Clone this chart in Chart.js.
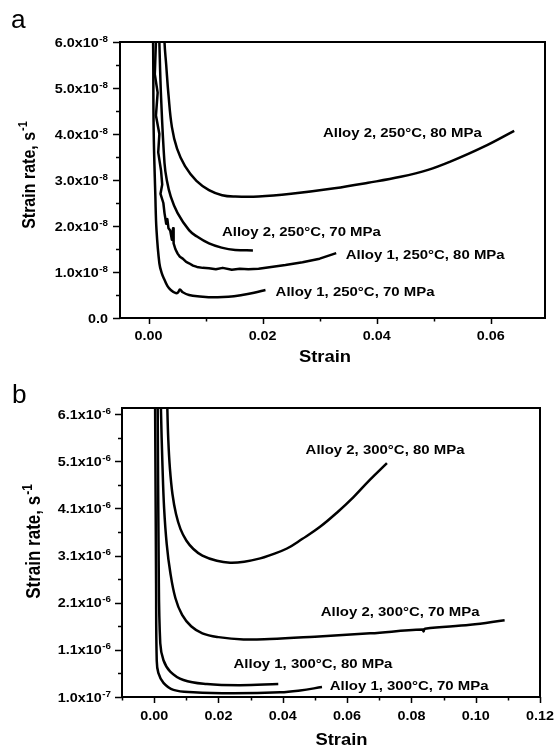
<!DOCTYPE html>
<html><head><meta charset="utf-8">
<script src="https://cdn.jsdelivr.net/npm/chart.js@4.4.0/dist/chart.umd.min.js"></script>
<style>
html,body{margin:0;padding:0;background:#fff;}
#wrap{position:relative;width:557px;height:749px;overflow:hidden;}
canvas{position:absolute;left:0;}
#ca{top:0}
#cb{top:372px}
</style></head><body>
<div id="wrap"><canvas id="ca" width="557" height="372"></canvas><canvas id="cb" width="557" height="377"></canvas></div>
<script>
// ---------- Panel a data (strain, strain rate in s^-1) ----------
const a_A2_80_x = [0.0026, 0.0028, 0.0031, 0.0035, 0.0041, 0.0050, 0.0064, 0.0084, 0.0106, 0.0129, 0.0152, 0.0193, 0.025, 0.0326, 0.0385, 0.0442, 0.049, 0.0529, 0.0587, 0.0641];
const a_A2_80_y = [7.0e-8, 6.0e-8, 5.50e-8, 4.85e-8, 4.15e-8, 3.68e-8, 3.30e-8, 2.98e-8, 2.78e-8, 2.67e-8, 2.64e-8, 2.64e-8, 2.70e-8, 2.82e-8, 2.94e-8, 3.07e-8, 3.22e-8, 3.40e-8, 3.72e-8, 4.07e-8];
const a_A2_70_x = [0.0017, 0.0019, 0.0022, 0.0028, 0.0032, 0.0039, 0.0051, 0.0071, 0.0085, 0.0106, 0.0128, 0.0152, 0.0183];
const a_A2_70_y = [7.0e-8, 6.0e-8, 4.8e-8, 3.37e-8, 3.0e-8, 2.64e-8, 2.28e-8, 1.91e-8, 1.77e-8, 1.62e-8, 1.53e-8, 1.48e-8, 1.47e-8];
const a_A1_80_x = [0.0012, 0.0013, 0.0011, 0.0016, 0.0013, 0.0019, 0.0017, 0.0022, 0.0024, 0.0021, 0.0026, 0.0028, 0.0031, 0.0033, 0.0035, 0.0038, 0.0041, 0.0043, 0.0044, 0.0047, 0.0051, 0.0055, 0.0060, 0.0066, 0.0071, 0.0078, 0.0085, 0.0095, 0.0106, 0.0118, 0.0130, 0.0146, 0.0160, 0.0175, 0.0193, 0.0215, 0.024, 0.027, 0.030, 0.0329];
const a_A1_80_y = [7.0e-8, 6.0e-8, 5.3e-8, 4.9e-8, 4.4e-8, 4.0e-8, 3.6e-8, 3.2e-8, 2.9e-8, 2.7e-8, 2.5e-8, 2.28e-8, 2.05e-8, 2.15e-8, 1.95e-8, 1.90e-8, 1.70e-8, 1.95e-8, 1.62e-8, 1.50e-8, 1.40e-8, 1.33e-8, 1.29e-8, 1.22e-8, 1.19e-8, 1.14e-8, 1.11e-8, 1.09e-8, 1.08e-8, 1.06e-8, 1.09e-8, 1.05e-8, 1.07e-8, 1.06e-8, 1.07e-8, 1.11e-8, 1.15e-8, 1.21e-8, 1.29e-8, 1.41e-8];
const a_A1_70_x = [0.0006, 0.0008, 0.0009, 0.0012, 0.0014, 0.0019, 0.0023, 0.0028, 0.0033, 0.0039, 0.0048, 0.0052, 0.0055, 0.0060, 0.0071, 0.0090, 0.0118, 0.0140, 0.0164, 0.0185, 0.0205];
const a_A1_70_y = [7.0e-8, 6.0e-8, 4.09e-8, 2.64e-8, 1.91e-8, 1.19e-8, 0.98e-8, 0.83e-8, 0.70e-8, 0.61e-8, 0.54e-8, 0.56e-8, 0.62e-8, 0.56e-8, 0.50e-8, 0.47e-8, 0.45e-8, 0.46e-8, 0.50e-8, 0.55e-8, 0.61e-8];

// ---------- Panel b data ----------
const b_A2_80_x = [0.0039, 0.0041, 0.0044, 0.0049, 0.0057, 0.0068, 0.0082, 0.0100, 0.0122, 0.0150, 0.0195, 0.0236, 0.028, 0.033, 0.0361, 0.0413, 0.046, 0.0516, 0.057, 0.062, 0.067, 0.0724];
const b_A2_80_y = [7.0e-6, 6.23e-6, 5.55e-6, 4.95e-6, 4.40e-6, 3.98e-6, 3.66e-6, 3.42e-6, 3.24e-6, 3.10e-6, 2.99e-6, 2.95e-6, 2.97e-6, 3.04e-6, 3.11e-6, 3.25e-6, 3.45e-6, 3.71e-6, 4.02e-6, 4.34e-6, 4.70e-6, 5.06e-6];
const b_A2_70_x = [0.0019, 0.0021, 0.0026, 0.0031, 0.0039, 0.0050, 0.0066, 0.0087, 0.0115, 0.0150, 0.0200, 0.0278, 0.036, 0.050, 0.0672, 0.0835, 0.0838, 0.0842, 0.0983, 0.109];
const b_A2_70_y = [7.0e-6, 6.23e-6, 4.98e-6, 4.10e-6, 3.35e-6, 2.75e-6, 2.20e-6, 1.84e-6, 1.60e-6, 1.45e-6, 1.37e-6, 1.32e-6, 1.33e-6, 1.38e-6, 1.45e-6, 1.53e-6, 1.49e-6, 1.55e-6, 1.63e-6, 1.73e-6];
const b_A1_80_x = [0.0009, 0.0011, 0.0014, 0.0019, 0.0029, 0.0050, 0.0091, 0.0164, 0.0267, 0.0386];
const b_A1_80_y = [7.0e-6, 6.23e-6, 3.0e-6, 1.24e-6, 0.88e-6, 0.64e-6, 0.46e-6, 0.375e-6, 0.35e-6, 0.375e-6];
const b_A1_70_x = [0.0002, 0.0003, 0.0006, 0.0008, 0.0013, 0.0029, 0.0060, 0.0122, 0.0247, 0.0392, 0.0454, 0.0522];
const b_A1_70_y = [7.0e-6, 6.23e-6, 2.5e-6, 0.88e-6, 0.61e-6, 0.40e-6, 0.25e-6, 0.20e-6, 0.18e-6, 0.20e-6, 0.24e-6, 0.31e-6];

// ---------- Ticks and labels ----------
const a_xTicks = [0, 0.02, 0.04, 0.06];
const a_xTickLabels = ['0.00', '0.02', '0.04', '0.06'];
const a_xMinor = [0.01, 0.03, 0.05];
const a_yTicks = [0, 1e-8, 2e-8, 3e-8, 4e-8, 5e-8, 6e-8];
const a_yTickLabels = ['0.0', '1.0x10^-8', '2.0x10^-8', '3.0x10^-8', '4.0x10^-8', '5.0x10^-8', '6.0x10^-8'];
const a_yMinor = [0.5e-8, 1.5e-8, 2.5e-8, 3.5e-8, 4.5e-8, 5.5e-8];

const b_xTicks = [0, 0.02, 0.04, 0.06, 0.08, 0.10, 0.12];
const b_xTickLabels = ['0.00', '0.02', '0.04', '0.06', '0.08', '0.10', '0.12'];
const b_xMinor = [-0.01, 0.01, 0.03, 0.05, 0.07, 0.09, 0.11];
const b_yTicks = [1.0e-7, 1.1e-6, 2.1e-6, 3.1e-6, 4.1e-6, 5.1e-6, 6.1e-6];
const b_yTickLabels = ['1.0x10^-7', '1.1x10^-6', '2.1x10^-6', '3.1x10^-6', '4.1x10^-6', '5.1x10^-6', '6.1x10^-6'];
const b_yMinor = [0.6e-6, 1.6e-6, 2.6e-6, 3.6e-6, 4.6e-6, 5.6e-6];

const a_seriesNames = ['Alloy 2, 250°C, 80 MPa', 'Alloy 2, 250°C, 70 MPa', 'Alloy 1, 250°C, 80 MPa', 'Alloy 1, 250°C, 70 MPa'];
const a_noteX = [0.0445, 0.0268, 0.0485, 0.0362];
const a_noteY = [4.04e-8, 1.89e-8, 1.38e-8, 0.57e-8];
const b_seriesNames = ['Alloy 2, 300°C, 80 MPa', 'Alloy 2, 300°C, 70 MPa', 'Alloy 1, 300°C, 80 MPa', 'Alloy 1, 300°C, 70 MPa'];
const b_noteX = [0.0718, 0.0765, 0.0494, 0.0793];
const b_noteY = [5.35e-6, 1.91e-6, 0.82e-6, 0.34e-6];

const FONT = '"Liberation Sans", Arial, Helvetica, sans-serif';
const SX = 1.15;

function setFont(ctx, size, weight) { ctx.font = weight + ' ' + size + 'px ' + FONT; }
function txt(ctx, s, x, y, size, weight, align, sx) {
  ctx.save();
  ctx.translate(x, y);
  ctx.scale(sx, 1);
  setFont(ctx, size, weight);
  ctx.textAlign = align;
  ctx.textBaseline = 'alphabetic';
  ctx.fillStyle = '#000';
  ctx.fillText(s, 0, 0);
  ctx.restore();
}
function mw(ctx, s, size, weight) { setFont(ctx, size, weight); return ctx.measureText(s).width; }

const panelPlugin = {
  id: 'panel',
  afterDraw(chart, args, o) {
    const ctx = chart.ctx, ca = chart.chartArea;
    const xs = chart.scales.x, ys = chart.scales.y;
    ctx.save();
    ctx.strokeStyle = '#000';
    ctx.lineWidth = 2;
    ctx.strokeRect(ca.left, ca.top, ca.right - ca.left, ca.bottom - ca.top);
    ctx.lineWidth = 1.5;
    ctx.beginPath();
    o.xMajor.forEach(v => { const p = Math.round(xs.getPixelForValue(v)) + 0.5; ctx.moveTo(p, ca.bottom); ctx.lineTo(p, ca.bottom + 6); });
    o.xMinor.forEach(v => { const p = Math.round(xs.getPixelForValue(v)) + 0.5; ctx.moveTo(p, ca.bottom); ctx.lineTo(p, ca.bottom + 3.5); });
    o.yMajor.forEach(v => { const p = Math.round(ys.getPixelForValue(v)) + 0.5; ctx.moveTo(ca.left, p); ctx.lineTo(ca.left - 7, p); });
    o.yMinor.forEach(v => { const p = Math.round(ys.getPixelForValue(v)) + 0.5; ctx.moveTo(ca.left, p); ctx.lineTo(ca.left - 4, p); });
    ctx.stroke();
    o.xMajor.forEach((v, i) => txt(ctx, o.xLabels[i], xs.getPixelForValue(v), ca.bottom + o.xLabelDy, 12.5, 'bold', 'center', SX));
    o.yMajor.forEach((v, i) => {
      const parts = o.yLabels[i].split('^');
      const y = ys.getPixelForValue(v);
      const xr = ca.left - o.yLabelGap;
      let supW = 0;
      if (parts[1]) {
        supW = mw(ctx, parts[1], 8.5, 'bold') * SX + 0.5;
        txt(ctx, parts[1], xr, y - 0.5, 8.5, 'bold', 'right', SX);
      }
      txt(ctx, parts[0], xr - supW, y + 4.5, 12.5, 'bold', 'right', SX);
    });
    txt(ctx, o.xTitle, (ca.left + ca.right) / 2 + o.xTitleDx, ca.bottom + o.xTitleDy, 16, 'bold', 'center', SX);
    {
      const fs = o.yTitleSize, ss = Math.round(fs * 0.68);
      const wMain = mw(ctx, o.yTitle, fs, 'bold');
      const wSup = mw(ctx, o.yTitleSup, ss, 'bold');
      const W = wMain + wSup + 1;
      const cap = fs * 0.716;
      ctx.save();
      ctx.translate(o.yTitleX, (ca.top + ca.bottom) / 2 + o.yTitleDy);
      ctx.scale(SX, 1);
      ctx.rotate(-Math.PI / 2);
      ctx.fillStyle = '#000';
      ctx.textAlign = 'left';
      ctx.textBaseline = 'alphabetic';
      setFont(ctx, fs, 'bold');
      ctx.fillText(o.yTitle, -W / 2, cap / 2);
      setFont(ctx, ss, 'bold');
      ctx.fillText(o.yTitleSup, -W / 2 + wMain + 1, cap / 2 - fs * 0.42);
      ctx.restore();
    }
    o.notes.forEach((s, i) => txt(ctx, s, xs.getPixelForValue(o.noteX[i]), ys.getPixelForValue(o.noteY[i]) + 4.6, 13, 'bold', 'center', SX));
    txt(ctx, o.letter, o.letterX, o.letterY, 25, 'normal', 'left', 1.05);
    ctx.restore();
  }
};

function pts(xs, ys) { return xs.map((x, i) => ({ x: x, y: ys[i] })); }
function ds(xs, ys, noisy) {
  return {
    data: pts(xs, ys), showLine: true, borderColor: '#000', backgroundColor: '#000',
    borderWidth: 2.5, pointRadius: 0, tension: noisy ? 0 : 0.4,
    borderJoinStyle: 'round', borderCapStyle: 'butt'
  };
}

function makeChart(id, datasets, cfg) {
  return new Chart(document.getElementById(id), {
    type: 'scatter',
    data: { datasets: datasets },
    options: {
      responsive: false, animation: false, devicePixelRatio: 1,
      layout: { padding: cfg.padding },
      plugins: { legend: { display: false }, tooltip: { enabled: false }, panel: cfg.panel },
      scales: {
        x: {
          type: 'linear', min: cfg.xMin, max: cfg.xMax,
          grid: { display: false }, border: { display: false }, ticks: { display: false },
          afterFit: s => { s.height = cfg.xHeight; }
        },
        y: {
          type: 'linear', min: cfg.yMin, max: cfg.yMax,
          grid: { display: false }, border: { display: false }, ticks: { display: false },
          afterFit: s => { s.width = cfg.yWidth; }
        }
      }
    },
    plugins: [panelPlugin]
  });
}

makeChart('ca', [
  ds(a_A2_80_x, a_A2_80_y), ds(a_A2_70_x, a_A2_70_y), ds(a_A1_80_x, a_A1_80_y, true), ds(a_A1_70_x, a_A1_70_y)
], {
  padding: { top: 42, right: 12, left: 0, bottom: 0 },
  xMin: -0.005, xMax: 0.0695, yMin: 0, yMax: 6e-8, xHeight: 54, yWidth: 120,
  panel: {
    xMajor: a_xTicks, xMinor: a_xMinor, xLabels: a_xTickLabels, yMajor: a_yTicks, yMinor: a_yMinor, yLabels: a_yTickLabels,
    xLabelDy: 21.5, yLabelGap: 12, xTitle: 'Strain', xTitleDx: -7.5, xTitleDy: 43.5,
    yTitle: 'Strain rate, s', yTitleSup: '-1', yTitleSize: 16, yTitleX: 28, yTitleDy: -5,
    notes: a_seriesNames, noteX: a_noteX, noteY: a_noteY, letter: 'a', letterX: 11, letterY: 28
  }
});

makeChart('cb', [
  ds(b_A2_80_x, b_A2_80_y), ds(b_A2_70_x, b_A2_70_y), ds(b_A1_80_x, b_A1_80_y), ds(b_A1_70_x, b_A1_70_y)
], {
  padding: { top: 36, right: 17, left: 0, bottom: 0 },
  xMin: -0.01, xMax: 0.12, yMin: 1.0e-7, yMax: 6.23e-6, xHeight: 52, yWidth: 122,
  panel: {
    xMajor: b_xTicks, xMinor: b_xMinor, xLabels: b_xTickLabels, yMajor: b_yTicks, yMinor: b_yMinor, yLabels: b_yTickLabels,
    xLabelDy: 22.5, yLabelGap: 11, xTitle: 'Strain', xTitleDx: 10.5, xTitleDy: 47.5,
    yTitle: 'Strain rate, s', yTitleSup: '-1', yTitleSize: 17, yTitleX: 33.5, yTitleDy: -11,
    notes: b_seriesNames, noteX: b_noteX, noteY: b_noteY, letter: 'b', letterX: 12, letterY: 31
  }
});
</script></body></html>
